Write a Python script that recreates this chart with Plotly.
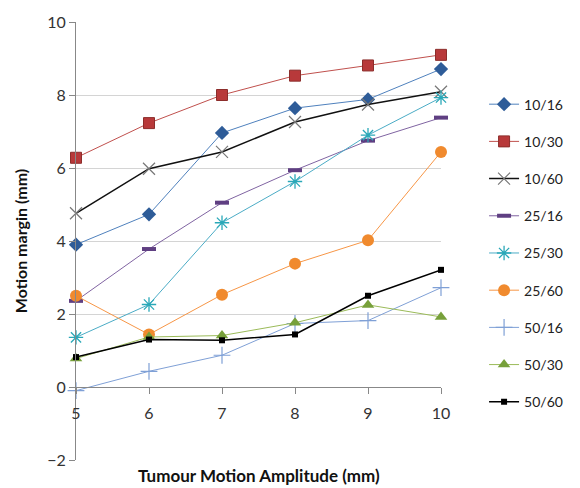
import plotly.graph_objects as go

x_vals = [5, 6, 7, 8, 9, 10]
series_names = ["10/16", "10/30", "10/60", "25/16", "25/30", "25/60", "50/16", "50/30", "50/60"]
s_10_16 = [3.9, 4.73, 6.96, 7.64, 7.88, 8.71]
s_10_30 = [6.28, 7.23, 8.0, 8.53, 8.81, 9.1]
s_10_60 = [4.76, 5.98, 6.44, 7.26, 7.74, 8.09]
s_25_16 = [2.36, 3.78, 5.05, 5.94, 6.75, 7.38]
s_25_30 = [1.36, 2.26, 4.5, 5.63, 6.9, 7.93]
s_25_60 = [2.5, 1.44, 2.53, 3.38, 4.02, 6.44]
s_50_16 = [-0.1, 0.43, 0.87, 1.74, 1.82, 2.72]
s_50_30 = [0.78, 1.37, 1.41, 1.76, 2.25, 1.92]
s_50_60 = [0.82, 1.3, 1.28, 1.44, 2.5, 3.21]
series_values = [s_10_16, s_10_30, s_10_60, s_25_16, s_25_30, s_25_60, s_50_16, s_50_30, s_50_60]

styles = [
    dict(line=dict(color="#4F81BD", width=1), marker=dict(symbol="diamond", size=11, color="#2E5C98", line=dict(width=0))),
    dict(line=dict(color="#C0504D", width=1), marker=dict(symbol="square", size=11, color="#B8393A", line=dict(color="#8C2D2B", width=1))),
    dict(line=dict(color="#111111", width=1.5), marker=dict(symbol="x-thin", size=12, color="#777777", line=dict(color="#777777", width=1.2))),
    dict(line=dict(color="#8064A2", width=1), marker=dict(symbol="line-ew", size=10, color="#5F3F82", line=dict(color="#5F3F82", width=4))),
    dict(line=dict(color="#4BACC6", width=1), marker=dict(symbol="asterisk", size=12, color="#2AA8B8", line=dict(color="#2AA8B8", width=1.3))),
    dict(line=dict(color="#F79646", width=1), marker=dict(symbol="circle", size=12, color="#F08A2E", line=dict(width=0))),
    dict(line=dict(color="#7FA0D6", width=1), marker=dict(symbol="cross-thin", size=12, color="#7FA0D6", line=dict(color="#7FA0D6", width=1.2))),
    dict(line=dict(color="#9BBB59", width=1), marker=dict(symbol="triangle-up", size=11, color="#77A03A", line=dict(width=0))),
    dict(line=dict(color="#000000", width=1.5), marker=dict(symbol="square", size=6, color="#000000", line=dict(width=0))),
]

fig = go.Figure()
for i, (name, vals, st) in enumerate(zip(series_names, series_values, styles)):
    fig.add_trace(go.Scatter(
        x=x_vals, y=vals, name=name, mode="lines+markers",
        line=st["line"], marker=st["marker"], cliponaxis=False,
        legendgroup=f"g{i}",
    ))

font_family = "Lato, 'Open Sans', Arial, sans-serif"
fig.update_layout(
    width=580, height=488,
    margin=dict(l=76, r=134, t=17, b=28),
    paper_bgcolor="white", plot_bgcolor="white",
    font=dict(family=font_family, color="#333333"),
    showlegend=True,
    legend=dict(
        x=1.118, xanchor="left", y=0.848, yanchor="top",
        font=dict(size=14, color="#222222"),
        tracegroupgap=16, itemwidth=30,
        bgcolor="rgba(0,0,0,0)",
    ),
    xaxis=dict(
        range=[5, 10], tickvals=x_vals, ticktext=[str(v) for v in x_vals],
        anchor="free", position=2/12,
        showline=True, linecolor="#888888", linewidth=1,
        ticks="outside", ticklen=6, tickcolor="#888888",
        ticklabelstandoff=6,
        showgrid=False, zeroline=False,
        tickfont=dict(size=16, color="#333333"),
    ),
    yaxis=dict(
        range=[-2, 10], tickvals=[-2, 0, 2, 4, 6, 8, 10],
        showline=True, linecolor="#888888", linewidth=1,
        ticks="outside", ticklen=6, tickcolor="#888888",
        showgrid=True, gridcolor="#D4D4D4", gridwidth=1,
        zeroline=False,
        tickfont=dict(size=16, color="#333333"),
        title=dict(text="<b>Motion margin (mm)</b>", font=dict(size=16, color="#111111"), standoff=15),
    ),
    annotations=[
        dict(text="<b>Tumour Motion Amplitude (mm)</b>", x=0.5, y=-(476 - 460) / 443, xref="paper", yref="paper",
             xanchor="center", yanchor="middle", showarrow=False, font=dict(size=17, color="#111111")),
    ],
)

fig.write_html("out.html")
